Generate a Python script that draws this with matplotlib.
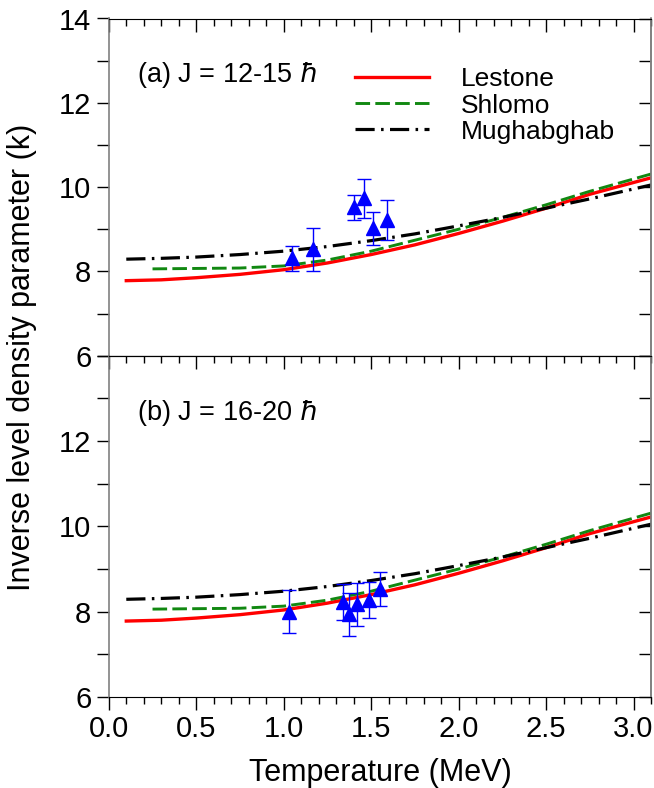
import matplotlib.pyplot as plt
from matplotlib.ticker import MultipleLocator

plt.rcParams['font.family'] = ['Liberation Sans', 'DejaVu Sans']
plt.rcParams['mathtext.fontset'] = 'dejavusans'

# model curves (same in both panels)
t_curve = [0.1, 0.3, 0.5, 0.75, 1.0, 1.25, 1.5, 1.75, 2.0, 2.25, 2.5, 2.75, 3.1]
lestone = [7.78, 7.80, 7.85, 7.93, 8.04, 8.20, 8.40, 8.63, 8.90, 9.19, 9.50, 9.83, 10.22]
mughabghab = [8.29, 8.31, 8.34, 8.40, 8.48, 8.59, 8.73, 8.89, 9.08, 9.28, 9.50, 9.72, 10.05]
t_shlomo = [0.25, 0.5, 0.75, 1.0, 1.25, 1.5, 1.75, 2.0, 2.25, 2.5, 2.75, 3.1]
shlomo = [8.06, 8.07, 8.08, 8.13, 8.27, 8.48, 8.74, 9.00, 9.28, 9.58, 9.90, 10.31]

# measured points
t_a = [1.05, 1.17, 1.40, 1.46, 1.51, 1.59]
k_a = [8.31, 8.52, 9.52, 9.73, 9.02, 9.22]
e_a = [0.30, 0.50, 0.30, 0.46, 0.40, 0.48]

t_b = [1.03, 1.34, 1.375, 1.42, 1.49, 1.55]
k_b = [8.00, 8.23, 7.94, 8.17, 8.28, 8.54]
e_b = [0.50, 0.42, 0.50, 0.50, 0.42, 0.40]

panel_labels = [r'(a) J = 12-15 $\hbar$', r'(b) J = 16-20 $\hbar$']

W, H = 654, 788
fig = plt.figure(figsize=(W / 100, H / 100), dpi=100)
L, R = 108.8 / W, 651 / W
top, mid, bot = 1 - 18.5 / H, 1 - 355.7 / H, 1 - 697 / H
ax1 = fig.add_axes([L, mid, R - L, top - mid])
ax2 = fig.add_axes([L, bot, R - L, mid - bot])

for ax, tx, ky, ke, lab in [(ax1, t_a, k_a, e_a, panel_labels[0]),
                            (ax2, t_b, k_b, e_b, panel_labels[1])]:
    ax.plot(t_curve, lestone, color='#ff0000', lw=2.4, label='Lestone')
    ax.plot(t_shlomo, shlomo, color='#118811', lw=2.1, dashes=(5, 1.8), label='Shlomo')
    ax.plot(t_curve, mughabghab, color='black', lw=2.3, dashes=(6, 2, 0.8, 2),
            label='Mughabghab')
    ax.errorbar(tx, ky, yerr=ke, fmt='^', color='#0000ff', ms=9.5, capsize=5,
                elinewidth=1, capthick=1)
    ax.set_xlim(0, 3.1)
    ax.set_ylim(6, 14)
    ax.xaxis.set_major_locator(MultipleLocator(0.5))
    ax.xaxis.set_minor_locator(MultipleLocator(0.1))
    ax.yaxis.set_major_locator(MultipleLocator(2))
    ax.yaxis.set_minor_locator(MultipleLocator(1))
    ax.tick_params(axis='y', which='both', direction='out', length=9, width=1,
                   labelsize=21, right=False)
    ax.tick_params(axis='x', which='major', length=9.5, width=1, labelsize=21)
    ax.tick_params(axis='x', which='minor', length=5, width=1)
    for s in ['left', 'right']:
        ax.spines[s].set_color('0.5')
        ax.spines[s].set_linewidth(1.2)
    sec = ax.secondary_yaxis('right')
    sec.yaxis.set_major_locator(MultipleLocator(1))
    sec.tick_params(direction='in', length=9, width=1, labelright=False)
    sec.spines['right'].set_color('0.5')
    sec.spines['right'].set_linewidth(1.2)
    ax.text(0.052, 0.832, lab, transform=ax.transAxes, fontsize=19.5, va='center')

ax1.tick_params(axis='x', which='both', direction='in', top=True, bottom=False,
                labelbottom=False)
ax2.tick_params(axis='x', which='both', direction='out', top=False, bottom=True)
ax2.set_yticks([6, 8, 10, 12])
ax2.set_ylim(6, 14)
secx = ax2.secondary_xaxis('top')
secx.xaxis.set_major_locator(MultipleLocator(0.5))
secx.xaxis.set_minor_locator(MultipleLocator(0.1))
secx.tick_params(which='major', direction='in', length=9.5, width=1, labeltop=False)
secx.tick_params(which='minor', direction='in', length=5, width=1)

ax1.legend(loc='upper left', bbox_to_anchor=(0.454, 0.855), frameon=False,
           fontsize=19, handlelength=2.8, handletextpad=1.2, labelspacing=0.08,
           borderpad=0, borderaxespad=0)

ax2.set_xlabel('Temperature (MeV)', fontsize=22, labelpad=11)
fig.text(0.034, 1 - 357 / H, 'Inverse level density parameter (k)', fontsize=22,
         rotation=90, va='center', ha='center')

fig.savefig('out.png', dpi=100)
